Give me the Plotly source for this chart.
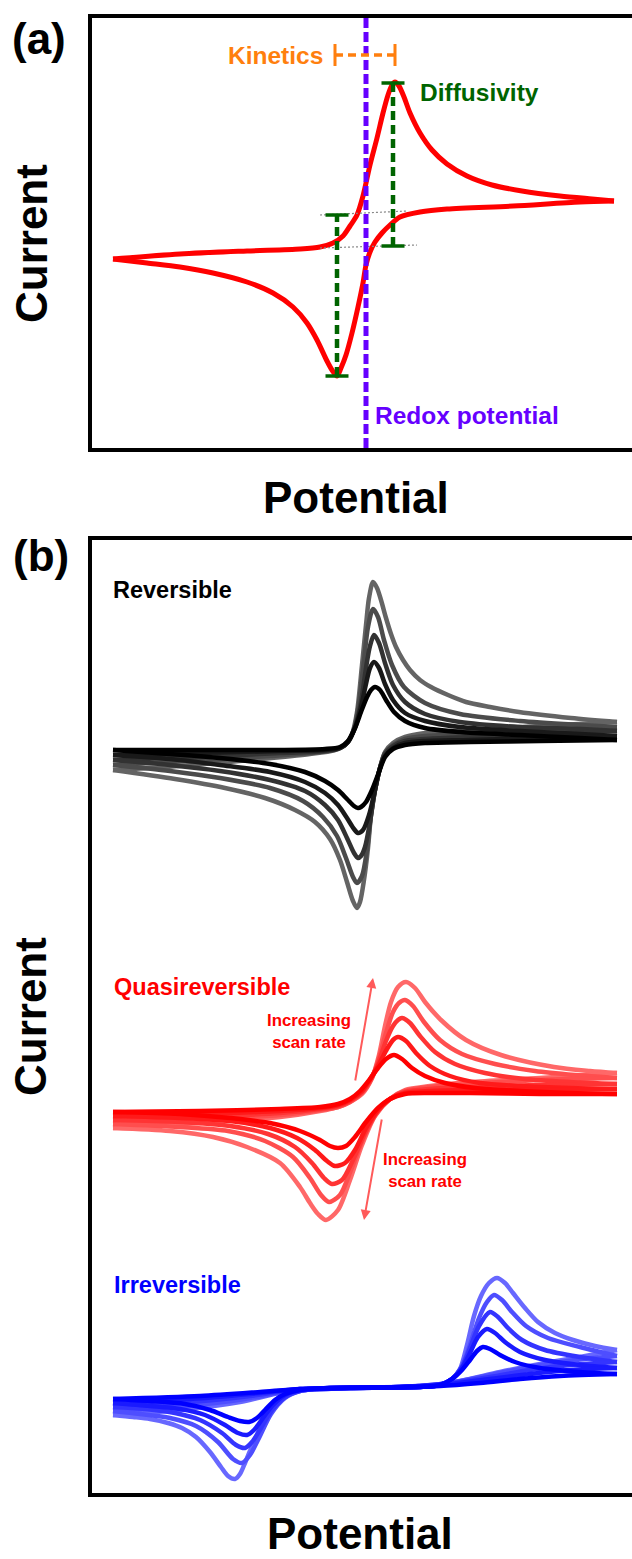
import plotly.graph_objects as go

W, H = 632, 1559
FONT = "Liberation Sans, Arial, sans-serif"

# ---------------- Panel (a): a single cyclic voltammogram ----------------
# potential in mV, current in µA; (E, I) pairs along each sweep direction
A_FWD = [(113, 41), (180, 46), (247, 49), (300, 51), (320, 53), (333, 57), (343, 64),
         (350, 74), (357, 85), (363, 104), (370, 135), (377, 162), (383, 187), (388, 205),
         (392, 215), (395, 218), (399, 214), (404, 203), (410, 187), (420, 167), (432, 150),
         (447, 136), (467, 124), (492, 115), (522, 109), (560, 104), (592, 101), (614, 99)]
A_REV = [(614, 99), (580, 98), (513, 94), (447, 91), (420, 88), (400, 83), (390, 75),
         (382, 67), (375, 58), (370, 48), (366, 35), (363, 17), (358, -7), (352, -33),
         (346, -55), (341, -68), (337, -76), (332, -70), (327, -61), (317, -40), (307, -23),
         (293, -7), (273, 7), (247, 18), (213, 27), (180, 33), (147, 37), (113, 41)]

E_REDOX = 366                      # formal redox potential
E_PA, I_PA, I_PA_BASE = 393, 217, 54   # anodic peak and its baseline
E_PC, I_PC, I_PC_BASE = 337, -76, 85   # cathodic peak and its baseline
KIN_E = [335, 395]                 # peak-to-redox separation bar
KIN_I = 245
BASE_FWD_E, BASE_FWD_I = [320, 417], [52, 55]
BASE_REV_E, BASE_REV_I = [320, 407], [85, 89]

# ---------------- Panel (b): scan-rate series for three regimes ----------------
# index 0 = slowest scan ... index 4 = fastest scan
REV_FWD = [
    [(113, 50), (200, 50), (280, 50), (325, 51), (340, 53), (348, 59), (355, 72), (361, 88),
     (367, 103), (371, 110), (375, 113), (380, 110), (386, 100), (394, 88), (405, 79),
     (425, 72), (460, 68), (520, 65), (580, 62), (617, 60)],
    [(113, 45), (200, 47), (280, 49), (325, 50), (340, 52), (348, 58), (355, 72), (361, 93),
     (366, 116), (370, 132), (374, 138), (379, 132), (385, 116), (393, 100), (405, 87),
     (425, 79), (460, 73), (520, 69), (580, 66), (617, 64)],
    [(113, 40), (200, 43), (280, 47), (325, 49), (340, 52), (348, 58), (355, 73), (361, 98),
     (366, 132), (370, 154), (374, 165), (379, 157), (385, 137), (393, 115), (405, 98),
     (425, 86), (460, 78), (520, 73), (580, 71), (617, 69)],
    [(113, 35), (190, 39), (270, 44), (320, 48), (338, 51), (347, 57), (354, 71), (359, 97),
     (364, 140), (368, 173), (373, 191), (378, 183), (384, 160), (392, 135), (404, 113),
     (425, 97), (460, 86), (520, 79), (580, 75), (617, 73)],
    [(113, 30), (180, 34), (250, 40), (310, 46), (335, 50), (345, 55), (352, 66), (357, 88),
     (362, 135), (366, 175), (369, 202), (373, 218), (377, 212), (381, 200), (386, 182),
     (391, 166), (396, 153), (403, 140), (410, 130), (420, 120), (431, 113), (448, 105),
     (466, 98), (490, 93), (519, 88), (571, 82), (617, 78)],
]
REV_REV = [
    [(617, 60), (540, 59), (470, 58), (425, 57), (405, 55), (393, 51), (385, 43), (379, 28),
     (372, 10), (366, -2), (361, -7), (358, -8), (354, -6), (347, 1), (338, 10), (325, 19),
     (305, 28), (270, 36), (220, 42), (170, 46), (113, 50)],
    [(617, 64), (540, 62), (470, 60), (425, 59), (405, 57), (393, 52), (385, 44), (380, 32),
     (375, 10), (369, -15), (363, -30), (358, -33), (354, -29), (347, -18), (338, -5),
     (325, 7), (305, 18), (270, 28), (220, 35), (170, 41), (113, 45)],
    [(617, 69), (540, 66), (470, 63), (425, 61), (405, 59), (393, 54), (385, 46), (380, 32),
     (375, 10), (370, -22), (365, -47), (361, -56), (358, -58), (354, -53), (347, -38),
     (338, -20), (325, -5), (305, 9), (270, 20), (220, 29), (170, 35), (113, 40)],
    [(617, 73), (540, 70), (470, 66), (425, 64), (405, 61), (393, 55), (385, 47), (380, 32),
     (375, 10), (371, -15), (367, -50), (362, -76), (357, -83), (353, -77), (346, -58),
     (337, -36), (323, -17), (303, -1), (270, 12), (220, 22), (170, 29), (113, 35)],
    [(617, 78), (540, 74), (470, 70), (425, 67), (405, 63), (393, 57), (385, 48), (380, 32),
     (375, 10), (371, -15), (368, -48), (364, -80), (360, -102), (357, -108), (353, -101),
     (347, -82), (340, -60), (330, -39), (315, -22), (295, -10), (265, 2), (225, 12),
     (175, 21), (113, 30)],
]

QUASI_FWD = [
    [(113, 38), (200, 39), (280, 41), (320, 43), (338, 46), (350, 51), (360, 59), (370, 71),
     (378, 82), (386, 91), (394, 95), (402, 91), (412, 82), (425, 74), (445, 67), (475, 62),
     (520, 59), (570, 57), (617, 56)],
    [(113, 34), (200, 36), (280, 39), (320, 42), (338, 45), (350, 50), (362, 59), (372, 74),
     (380, 88), (387, 101), (393, 110), (398, 113), (406, 109), (416, 97), (430, 84),
     (450, 74), (480, 67), (520, 64), (570, 62), (617, 61)],
    [(113, 30), (200, 33), (280, 37), (320, 41), (338, 44), (350, 49), (362, 58), (372, 73),
     (379, 89), (386, 109), (393, 124), (398, 130), (402, 132), (410, 127), (420, 114),
     (435, 98), (455, 86), (485, 77), (525, 71), (570, 68), (617, 66)],
    [(113, 26), (200, 30), (280, 35), (320, 40), (338, 43), (350, 48), (362, 57), (372, 72),
     (379, 92), (386, 117), (393, 138), (399, 147), (405, 150), (413, 144), (424, 128),
     (440, 110), (462, 96), (495, 86), (535, 79), (575, 75), (617, 72)],
    [(113, 22), (200, 27), (280, 33), (320, 39), (338, 43), (350, 48), (362, 56), (372, 72),
     (379, 95), (385, 124), (391, 148), (398, 163), (406, 168), (415, 162), (425, 148),
     (441, 130), (466, 110), (501, 95), (554, 83), (590, 79), (617, 77)],
]
QUASI_REV = [
    [(617, 56), (540, 56), (470, 57), (430, 57), (405, 56), (390, 51), (378, 42), (366, 28),
     (355, 13), (346, 4), (338, 2), (330, 4), (320, 10), (300, 19), (270, 27), (230, 32),
     (180, 36), (113, 38)],
    [(617, 61), (540, 60), (470, 60), (430, 59), (405, 57), (390, 51), (378, 40), (366, 22),
     (355, 0), (345, -13), (335, -16), (327, -11), (315, 0), (297, 12), (270, 22), (230, 29),
     (180, 32), (113, 34)],
    [(617, 66), (540, 65), (470, 63), (430, 61), (405, 58), (390, 51), (377, 38), (365, 17),
     (353, -10), (342, -30), (332, -34), (324, -28), (312, -13), (295, 3), (268, 16),
     (230, 24), (180, 28), (113, 30)],
    [(617, 72), (540, 70), (470, 66), (430, 63), (405, 59), (390, 51), (376, 36), (363, 11),
     (351, -20), (340, -45), (329, -52), (321, -45), (310, -28), (293, -7), (265, 9),
     (228, 19), (180, 23), (113, 26)],
    [(617, 77), (540, 72), (470, 68), (430, 64), (405, 60), (390, 51), (375, 34), (362, 5),
     (350, -30), (338, -60), (326, -70), (318, -64), (310, -53), (300, -37), (280, -13),
     (247, 3), (213, 13), (170, 19), (113, 22)],
]

IRR_FWD = [
    [(113, 51), (200, 54), (260, 58), (300, 61), (350, 62), (420, 63), (440, 65), (452, 71),
     (462, 80), (470, 90), (477, 99), (483, 103), (490, 101), (500, 95), (515, 88),
     (540, 82), (580, 78), (617, 76)],
    [(113, 47), (190, 51), (250, 56), (300, 61), (350, 62), (420, 63), (440, 65), (452, 71),
     (462, 82), (470, 97), (478, 113), (487, 121), (495, 117), (505, 108), (520, 98),
     (545, 90), (580, 85), (617, 82)],
    [(113, 43), (190, 48), (250, 54), (300, 61), (350, 62), (420, 63), (440, 65), (452, 71),
     (462, 83), (470, 102), (479, 124), (490, 138), (498, 133), (508, 122), (522, 110),
     (545, 100), (580, 93), (617, 88)],
    [(113, 39), (185, 44), (245, 51), (290, 59), (350, 62), (420, 63), (440, 65), (452, 71),
     (462, 84), (470, 105), (479, 132), (487, 148), (494, 155), (502, 150), (512, 138),
     (526, 124), (548, 112), (580, 103), (617, 94)],
    [(113, 35), (180, 40), (240, 48), (285, 58), (350, 62), (420, 63), (440, 65), (452, 71),
     (460, 81), (467, 105), (474, 134), (481, 154), (489, 167), (497, 172), (505, 167),
     (513, 157), (525, 142), (538, 128), (555, 117), (573, 110), (595, 104), (617, 100)],
]
IRR_REV = [
    [(617, 76), (560, 74), (520, 71), (480, 67), (440, 64), (400, 63), (330, 62), (300, 60),
     (285, 56), (275, 50), (265, 40), (257, 32), (249, 28), (240, 29), (228, 33), (210, 40),
     (185, 46), (150, 49), (113, 51)],
    [(617, 82), (570, 80), (530, 76), (490, 71), (450, 66), (420, 64), (400, 63), (330, 62),
     (300, 60), (285, 55), (273, 45), (263, 32), (254, 20), (247, 15), (238, 17), (225, 25),
     (205, 35), (180, 41), (150, 44), (113, 47)],
    [(617, 88), (570, 85), (530, 80), (490, 73), (450, 67), (420, 64), (400, 63), (330, 62),
     (300, 59), (285, 53), (272, 40), (261, 22), (252, 8), (245, 2), (236, 5), (222, 17),
     (200, 30), (175, 37), (145, 41), (113, 43)],
    [(617, 94), (575, 90), (535, 84), (495, 76), (455, 68), (420, 64), (400, 63), (330, 62),
     (300, 59), (285, 52), (271, 36), (259, 12), (250, -5), (242, -13), (233, -9), (218, 8),
     (196, 24), (170, 32), (140, 36), (113, 39)],
    [(617, 100), (580, 93), (540, 86), (500, 78), (460, 69), (430, 64), (400, 63), (330, 62),
     (305, 61), (291, 57), (280, 50), (270, 40), (262, 26), (256, 13), (250, -1), (245, -13),
     (240, -24), (235, -29), (228, -26), (221, -17), (210, -2), (196, 13), (182, 22),
     (168, 27), (150, 31), (133, 33), (113, 35)],
]

REV_COLORS = ["#000000", "#191919", "#323232", "#4b4b4b", "#646464"]
QUASI_COLORS = ["#ff0000", "#ff1a1a", "#ff3434", "#ff4e4e", "#ff6868"]
IRR_COLORS = ["#0000ff", "#1a1aff", "#3434ff", "#4e4eff", "#6868ff"]

# vertical stacking of the three regimes inside panel (b)
STACK = {"rev": -800, "quasi": -1150, "irr": -1450}

fig = go.Figure()


def loop_xy(fwd, rev, shift=0):
    """Join the two sweeps with a gap so each branch is smoothed on its own."""
    x = [p[0] for p in fwd] + [None] + [p[0] for p in rev]
    y = [p[1] + shift for p in fwd] + [None] + [p[1] + shift for p in rev]
    return x, y


# panel (a) voltammogram
x, y = loop_xy(A_FWD, A_REV)
fig.add_trace(go.Scatter(x=x, y=y, mode="lines", xaxis="x", yaxis="y",
                         line=dict(color="#ff0000", width=5, shape="spline", smoothing=0.8),
                         hoverinfo="skip", showlegend=False))

# panel (b) families, fastest scan drawn first so slow scans sit on top
for key, fwds, revs, cols in [("rev", REV_FWD, REV_REV, REV_COLORS),
                              ("quasi", QUASI_FWD, QUASI_REV, QUASI_COLORS),
                              ("irr", IRR_FWD, IRR_REV, IRR_COLORS)]:
    for i in reversed(range(len(fwds))):
        x, y = loop_xy(fwds[i], revs[i], STACK[key])
        fig.add_trace(go.Scatter(x=x, y=y, mode="lines", xaxis="x2", yaxis="y2",
                                 line=dict(color=cols[i], width=4.5, shape="spline", smoothing=0.8),
                                 hoverinfo="skip", showlegend=False))

shapes = []


def seg(x0, y0, x1, y1, color, width, dash="solid", ref=("x", "y")):
    shapes.append(dict(type="line", xref=ref[0], yref=ref[1], x0=x0, y0=y0, x1=x1, y1=y1,
                       line=dict(color=color, width=width, dash=dash), layer="above"))


PURPLE = "#6600ff"
GREEN = "#006400"
ORANGE = "#ff7f0e"

# baseline extrapolations
seg(BASE_FWD_E[0], BASE_FWD_I[0], BASE_FWD_E[1], BASE_FWD_I[1], "#888888", 1.2, "2px,2px")
seg(BASE_REV_E[0], BASE_REV_I[0], BASE_REV_E[1], BASE_REV_I[1], "#888888", 1.2, "2px,2px")

# redox potential marker
seg(E_REDOX, -148, E_REDOX, 282, PURPLE, 5, "10px,4px")

# peak current bars
CAP = 11.5
for e, i_hi, i_lo in [(E_PA, I_PA, I_PA_BASE), (E_PC, I_PC_BASE, I_PC)]:
    seg(e, i_lo, e, i_hi, GREEN, 4.5, "9px,5px")
    seg(e - CAP, i_hi, e + CAP, i_hi, GREEN, 3.5)
    seg(e - CAP, i_lo, e + CAP, i_lo, GREEN, 3.5)

# kinetics bar
seg(KIN_E[0], KIN_I, KIN_E[1], KIN_I, ORANGE, 3.5, "8px,5px")
for e in KIN_E:
    seg(e, KIN_I - 11, e, KIN_I + 11, ORANGE, 3)


def txt(x, y, s, size, color="black", xanchor="center", ref=("x", "y"), angle=0):
    return dict(x=x, y=y, xref=ref[0], yref=ref[1], text=s, showarrow=False,
                xanchor=xanchor, yanchor="middle", textangle=angle,
                font=dict(family=FONT, size=size, color=color))


def px(v):
    return v / W


def py(v):
    return 1 - v / H


annotations = [
    txt(px(39), py(38), "<b>(a)</b>", 44, ref=("paper", "paper")),
    txt(px(41), py(556), "<b>(b)</b>", 44, ref=("paper", "paper")),
    txt(px(31), py(244), "<b>Current</b>", 44, ref=("paper", "paper"), angle=-90),
    txt(px(31), py(1017), "<b>Current</b>", 44, ref=("paper", "paper"), angle=-90),
    txt(px(356), py(497), "<b>Potential</b>", 44, ref=("paper", "paper")),
    txt(px(360), py(1533), "<b>Potential</b>", 44, ref=("paper", "paper")),
    txt(325, 245, "<b>Kinetics</b>", 24.5, ORANGE, "right"),
    txt(418, 208, "<b>Diffusivity</b>", 24.5, GREEN, "left"),
    txt(373, -115, "<b>Redox potential</b>", 24.5, PURPLE, "left"),
    txt(111, -590, "<b>Reversible</b>", 23.5, "black", "left", ("x2", "y2")),
    txt(112, -987, "<b>Quasireversible</b>", 23.5, "#ff0000", "left", ("x2", "y2")),
    txt(112, -1285, "<b>Irreversible</b>", 23.5, "#0000ff", "left", ("x2", "y2")),
    txt(309, -1031, "<b>Increasing<br>scan rate</b>", 16.8, "#ff0000", "center", ("x2", "y2")),
    txt(425, -1170, "<b>Increasing<br>scan rate</b>", 16.8, "#ff0000", "center", ("x2", "y2")),
]

ARROW = "#ff5a5a"
for (hx, hy, tx, ty) in [(373, -978, 355, -1082), (364, -1220, 382, -1118)]:
    annotations.append(dict(x=hx, y=hy, ax=tx, ay=ty, xref="x2", yref="y2",
                            axref="x2", ayref="y2", text="", showarrow=True,
                            arrowhead=2, arrowsize=1, arrowwidth=2, arrowcolor=ARROW))

axis = dict(showgrid=False, zeroline=False, showticklabels=False, ticks="",
            showline=True, linecolor="black", linewidth=4, fixedrange=True)

fig.update_layout(
    width=W, height=H, margin=dict(l=0, r=0, t=0, b=0),
    paper_bgcolor="white", plot_bgcolor="white", showlegend=False,
    xaxis=dict(domain=[91.5 / W, 1], range=[91.5, 632], anchor="y", mirror=True, **axis),
    yaxis=dict(domain=[1 - 448 / H, 1 - 18 / H], range=[-148, 282], anchor="x", **axis),
    xaxis2=dict(domain=[91.5 / W, 1], range=[91.5, 632], anchor="y2", mirror=True, **axis),
    yaxis2=dict(domain=[1 - 1492.5 / H, 1 - 540 / H], range=[-1492.5, -540], anchor="x2", **axis),
    shapes=shapes, annotations=annotations,
)

fig.write_html("out.html")
